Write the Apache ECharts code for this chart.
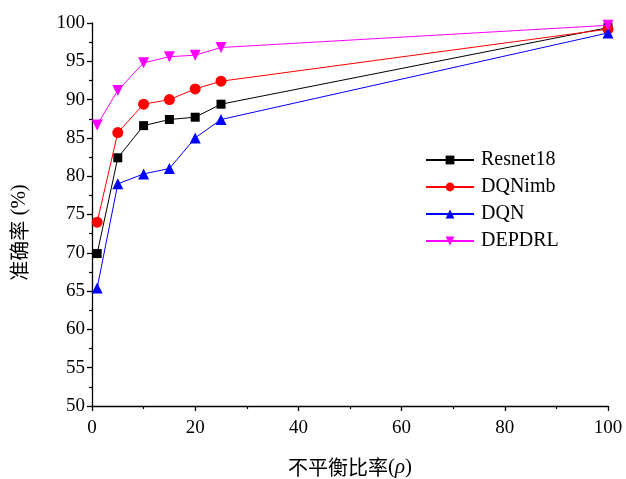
<!DOCTYPE html>
<html><head><meta charset="utf-8">
<script src="https://cdn.jsdelivr.net/npm/echarts@6/dist/echarts.min.js"></script>
<style>html,body{margin:0;padding:0;background:#fff}#c{width:626px;height:479px}</style>
</head><body><div id="c"></div>
<script>
var ratios = [1, 5, 10, 15, 20, 25, 100];
var resnet18 = [69.9, 82.4, 86.6, 87.4, 87.7, 89.4, 99.4];
var dqnimb = [74.0, 85.7, 89.4, 90.0, 91.4, 92.4, 99.2];
var dqn = [65.4, 79.0, 80.3, 81.0, 85.0, 87.4, 98.7];
var depdrl = [86.7, 91.2, 94.8, 95.6, 95.8, 96.8, 99.7];
var seriesNames = ['Resnet18', 'DQNimb', 'DQN', 'DEPDRL'];
var xTicks = [0, 20, 40, 60, 80, 100];
var yTicks = [50, 55, 60, 65, 70, 75, 80, 85, 90, 95, 100];

function pairs(v){ return ratios.map(function(x,i){return [x, v[i]];}); }
var colors = ['#000000', '#ff0000', '#0000ff', '#ff00ff'];
var symbols = ['rect', 'circle', 'triangle', 'path://M0,0 L10,0 L5,9 Z'];
var sizes = [9, 11, 11, 11];
var data = [resnet18, dqnimb, dqn, depdrl];
var serif = '"Liberation Serif","Times New Roman",serif';
var cjk = '"Noto Sans CJK SC"';

var series = data.map(function(v,i){
  return {
    name: seriesNames[i], type: 'line', data: pairs(v),
    symbol: symbols[i], symbolSize: sizes[i], showSymbol: true,
    lineStyle: {color: colors[i], width: 1},
    itemStyle: {color: colors[i]},
    z: 2 + i, animation: false
  };
});

var chart = echarts.init(document.getElementById('c'), null, {renderer: 'canvas'});
chart.setOption({
  animation: false,
  backgroundColor: '#fff',
  grid: {left: 92, right: 18, top: 23, bottom: 73, containLabel: false, outerBoundsMode: 'none'},
  legend: {
    data: seriesNames, orient: 'vertical', left: 425, top: 150, padding: 0,
    itemWidth: 48, itemHeight: 11, itemGap: 7,
    textStyle: {fontFamily: serif, fontSize: 20, color: '#000', padding: [0,0,0,2]}
  },
  xAxis: {
    type: 'value', min: xTicks[0], max: xTicks[xTicks.length-1], interval: 20,
    name: '{c|不平衡比率}{s|(}{i|ρ}{s|)}', nameLocation: 'middle', nameGap: 51,
    nameTextStyle: {
      fontSize: 20, color: '#000',
      rich: {
        c: {fontFamily: cjk, fontSize: 20, color: '#000'},
        s: {fontFamily: serif, fontSize: 21, color: '#000'},
        i: {fontFamily: serif, fontSize: 21, fontStyle: 'italic', color: '#000'}
      }
    },
    axisLine: {show: true, onZero: false, lineStyle: {color: '#000', width: 1.3}},
    axisTick: {show: true, inside: false, length: 5, lineStyle: {color: '#000', width: 1.3}},
    minorTick: {show: true, splitNumber: 2, length: 3, lineStyle: {color: '#000', width: 1.2}},
    axisLabel: {fontFamily: serif, fontSize: 19, color: '#000', margin: 13},
    splitLine: {show: false}
  },
  yAxis: {
    type: 'value', min: yTicks[0], max: yTicks[yTicks.length-1], interval: 5,
    name: '{c|准确率}{s| (%)}', nameLocation: 'middle', nameGap: 62, nameRotate: 90,
    nameTextStyle: {
      fontSize: 20, color: '#000', padding: [0, 36, 0, 0],
      rich: {
        c: {fontFamily: cjk, fontSize: 20, color: '#000'},
        s: {fontFamily: serif, fontSize: 21, color: '#000'}
      }
    },
    axisLine: {show: true, onZero: false, lineStyle: {color: '#000', width: 1.3}},
    axisTick: {show: true, inside: false, length: 5, lineStyle: {color: '#000', width: 1.3}},
    minorTick: {show: true, splitNumber: 2, length: 3, lineStyle: {color: '#000', width: 1.2}},
    axisLabel: {fontFamily: serif, fontSize: 19, color: '#000', margin: 7},
    splitLine: {show: false}
  },
  series: series
});
</script></body></html>
